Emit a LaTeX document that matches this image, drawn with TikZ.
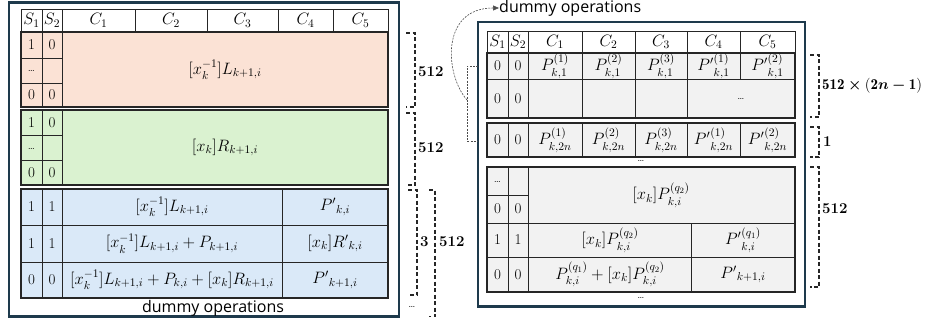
\RequirePackage{fix-cm}
\documentclass[tikz,border=0pt]{standalone}
\usepackage{amsmath}
\usepackage{fontspec}
\newfontfamily\capfont{Open Sans}
\usetikzlibrary{arrows.meta}
\definecolor{framec}{HTML}{1E3A4C}
\definecolor{pinkc}{HTML}{FBE2D5}
\definecolor{greenc}{HTML}{DAF2D0}
\definecolor{bluec}{HTML}{DAE9F8}
\definecolor{grayc}{HTML}{F2F2F2}
\definecolor{gridc}{HTML}{262626}
\tikzset{
  panel/.style={draw=framec, line width=2.4pt, fill=white},
  blockbox/.style={draw=gridc, line width=1.4pt},
  grid/.style={draw=gridc, line width=1pt},
  txt/.style={inner sep=0pt, font=\fontsize{15}{18}\selectfont},
  mth/.style={inner sep=0pt, font=\fontsize{16.5}{19}\selectfont},
  dts/.style={inner sep=0pt, font=\fontsize{11}{13}\selectfont},
  lbl/.style={inner sep=0pt, anchor=west, font=\fontsize{15}{17}\selectfont\bfseries},
  capt/.style={inner sep=0pt, font=\fontsize{16}{19}\selectfont\capfont},
  bracedash/.style={line width=1.6pt, dash pattern=on 4pt off 2.5pt, draw=black!85},
  thindash/.style={line width=0.6pt, dash pattern=on 2pt off 1.2pt, draw=black!70},
}
\begin{document}
\begin{tikzpicture}[x=1pt,y=-1pt]
\useasboundingbox (0,0) rectangle (926,324);

% ---------------- left panel ----------------
\path[panel] (9,2.5) rectangle (399,316.5);

% header row
\draw[grid, fill=white] (21,9) rectangle (388,32);
\foreach \xx in {42,62,135,207,278,333} \draw[grid] (\xx,9) -- (\xx,32);
% L block
\path[fill=pinkc] (21,32) rectangle (388,107);
\draw[grid] (21,58) -- (62,58) (21,83) -- (62,83) (42,32) -- (42,107) (62,32) -- (62,107);
\draw[blockbox] (21,32) rectangle (388,107);
% R block
\path[fill=greenc] (21,110) rectangle (388,185);
\draw[grid] (21,135) -- (62,135) (21,160) -- (62,160) (42,110) -- (42,185) (62,110) -- (62,185);
\draw[blockbox] (21,110) rectangle (388,185);
% final block
\path[fill=bluec] (21,189) rectangle (388,298);
\draw[grid] (21,225) -- (388,225) (21,262) -- (388,262) (42,189) -- (42,298) (62,189) -- (62,298) (282,189) -- (282,298);
\draw[blockbox] (21,189) rectangle (388,298);

\node[mth] (lhs1) at (31.5,20.5) {$S_1$};
\node[mth] (lhs2) at (52,20.5) {$S_2$};
\node[mth] (lhc1) at (98.5,20.5) {$C_1$};
\node[mth] (lhc2) at (171,20.5) {$C_2$};
\node[mth] (lhc3) at (242.5,20.5) {$C_3$};
\node[mth] (lhc4) at (305.5,20.5) {$C_4$};
\node[mth] (lhc5) at (360.5,20.5) {$C_5$};

\node[txt] (la1) at (31.5,45) {1};
\node[txt] (la2) at (52,45) {0};
\node[dts] (la3) at (31.5,71) {\ldots};
\node[txt] (la4) at (31.5,95) {0};
\node[txt] (la5) at (52,95) {0};
\node[mth] (lam) at (225,70) {$[x_k^{-1}]L_{k+1,i}$};

\node[txt] (lb1) at (31.5,122.5) {1};
\node[txt] (lb2) at (52,122.5) {0};
\node[dts] (lb3) at (31.5,148.5) {\ldots};
\node[txt] (lb4) at (31.5,172.5) {0};
\node[txt] (lb5) at (52,172.5) {0};
\node[mth] (lbm) at (225,147.5) {$[x_k]R_{k+1,i}$};

\node[txt] (lc1) at (31.5,207) {1};
\node[txt] (lc2) at (52,207) {1};
\node[mth] (lc3) at (172,207) {$[x_k^{-1}]L_{k+1,i}$};
\node[mth] (lc4) at (335,207) {${P'}_{k,i}$};
\node[txt] (ld1) at (31.5,243.5) {1};
\node[txt] (ld2) at (52,243.5) {1};
\node[mth] (ld3) at (172,243.5) {$[x_k^{-1}]L_{k+1,i}+P_{k+1,i}$};
\node[mth] (ld4) at (335,243.5) {$[x_k]{R'}_{k,i}$};
\node[txt] (le1) at (31.5,280) {0};
\node[txt] (le2) at (52,280) {0};
\node[mth] (le3) at (172,280) {$[x_k^{-1}]L_{k+1,i}+P_{k,i}+[x_k]R_{k+1,i}$};
\node[mth] (le4) at (335,280) {${P'}_{k+1,i}$};

\node[capt] (lcap) at (213,308.5) {dummy operations};

% braces beside the left panel
\draw[bracedash] (406,33) -- (415,33) -- (415,107) -- (406,107);
\node[lbl] (lbr1) at (418,72) {512};
\draw[bracedash] (406,113) -- (415,113) -- (415,185) -- (406,185);
\node[lbl] (lbr2) at (418,148) {512};
\draw[bracedash] (408,190) -- (417,190) -- (417,295) -- (408,295);
\node[lbl] (lbr3) at (420,242) {3};
\draw[bracedash] (429,190) -- (435,190) -- (435,316.5) -- (429,316.5);
\node[lbl] (lbr4) at (439,242) {512};
\node[dts] (ldots) at (412,307) {\ldots};

% ---------------- right panel ----------------
\path[panel] (478,22) rectangle (805,306.5);

\draw[grid, fill=white] (487,31) rectangle (795,53);
\foreach \xx in {508,528,582,635,687,740} \draw[grid] (\xx,31) -- (\xx,53);
% first group of rows
\path[fill=grayc] (487,53) rectangle (795,118);
\draw[grid] (487,79) -- (795,79);
\foreach \xx in {508,528,582,635,687} \draw[grid] (\xx,53) -- (\xx,118);
\draw[grid] (740,53) -- (740,79);
\draw[blockbox] (487,53) rectangle (795,118);
% single row
\path[fill=grayc] (487,123) rectangle (795,157);
\foreach \xx in {508,528,582,635,687,740} \draw[grid] (\xx,123) -- (\xx,157);
\draw[blockbox] (487,123) rectangle (795,157);
% last group
\path[fill=grayc] (487,167) rectangle (795,292);
\draw[grid] (487,195) -- (528,195) (487,223) -- (795,223) (487,257) -- (795,257);
\draw[grid] (508,167) -- (508,292) (528,167) -- (528,292) (691,223) -- (691,292);
\draw[blockbox] (487,167) rectangle (795,292);

\node[mth] (rhs1) at (497.5,42) {$S_1$};
\node[mth] (rhs2) at (518,42) {$S_2$};
\node[mth] (rhc1) at (555,42) {$C_1$};
\node[mth] (rhc2) at (608.5,42) {$C_2$};
\node[mth] (rhc3) at (661,42) {$C_3$};
\node[mth] (rhc4) at (713.5,42) {$C_4$};
\node[mth] (rhc5) at (767.5,42) {$C_5$};

\node[txt] (ra1) at (497.5,66) {0};
\node[txt] (ra2) at (518,66) {0};
\node[mth] (ra3) at (555,66) {$P^{(1)}_{k,1}$};
\node[mth] (ra4) at (608.5,66) {$P^{(2)}_{k,1}$};
\node[mth] (ra5) at (661,66) {$P^{(3)}_{k,1}$};
\node[mth] (ra6) at (713.5,66) {${P'}^{(1)}_{k,1}$};
\node[mth] (ra7) at (767.5,66) {${P'}^{(2)}_{k,1}$};
\node[txt] (rb1) at (497.5,98.5) {0};
\node[txt] (rb2) at (518,98.5) {0};
\node[dts] (rb3) at (741,99) {\ldots};

\node[txt] (rc1) at (497.5,140) {0};
\node[txt] (rc2) at (518,140) {0};
\node[mth] (rc3) at (555,140) {$P^{(1)}_{k,2n}$};
\node[mth] (rc4) at (608.5,140) {$P^{(2)}_{k,2n}$};
\node[mth] (rc5) at (661,140) {$P^{(3)}_{k,2n}$};
\node[mth] (rc6) at (713.5,140) {${P'}^{(1)}_{k,2n}$};
\node[mth] (rc7) at (767.5,140) {${P'}^{(2)}_{k,2n}$};
\node[dts] (rdots1) at (641,161) {\ldots};

\node[dts] (rd1) at (497.5,182) {\ldots};
\node[txt] (rd2) at (497.5,209) {0};
\node[txt] (rd3) at (518,209) {0};
\node[mth] (rdm) at (661,195) {$[x_k]P^{(q_2)}_{k,i}$};
\node[txt] (re1) at (497.5,240) {1};
\node[txt] (re2) at (518,240) {1};
\node[mth] (re3) at (610,240) {$[x_k]P^{(q_2)}_{k,i}$};
\node[mth] (re4) at (743,240) {${P'}^{(q_1)}_{k,i}$};
\node[txt] (rf1) at (497.5,274.5) {0};
\node[txt] (rf2) at (518,274.5) {0};
\node[mth] (rf3) at (610,274.5) {$P^{(q_1)}_{k,i}+[x_k]P^{(q_2)}_{k,i}$};
\node[mth] (rf4) at (743,274.5) {${P'}_{k+1,i}$};
\node[dts] (rdots2) at (641,298) {\ldots};

% braces beside the right panel
\draw[bracedash] (810,55) -- (819,55) -- (819,117) -- (810,117);
\node[lbl] (rbr1) at (822,86) {$\mathbf{512}\boldsymbol{\times}\mathbf{(2}\boldsymbol{n}\boldsymbol{-}\mathbf{1)}$};
\draw[bracedash] (810,127) -- (819,127) -- (819,157) -- (810,157);
\node[lbl] (rbr2) at (823,142) {1};
\draw[bracedash] (810,167) -- (819,167) -- (819,287) -- (810,287);
\node[lbl] (rbr3) at (822,209) {512};

% bracket over the repeated rows, pointing to its caption
\coordinate (bt) at (478,66);
\coordinate (bb) at (478,141);
\coordinate (bm) at (467,100);
\draw[thindash] (bt) -- (467,66) -- (467,141) -- (bb);
\node[capt, anchor=west] (rcap) at (499,8) {dummy operations};
\draw[thindash, -{Triangle[length=6pt,width=5pt]}] (bm) .. controls (445,75) and (440,8) .. (rcap.west);

\end{tikzpicture}
\end{document}
